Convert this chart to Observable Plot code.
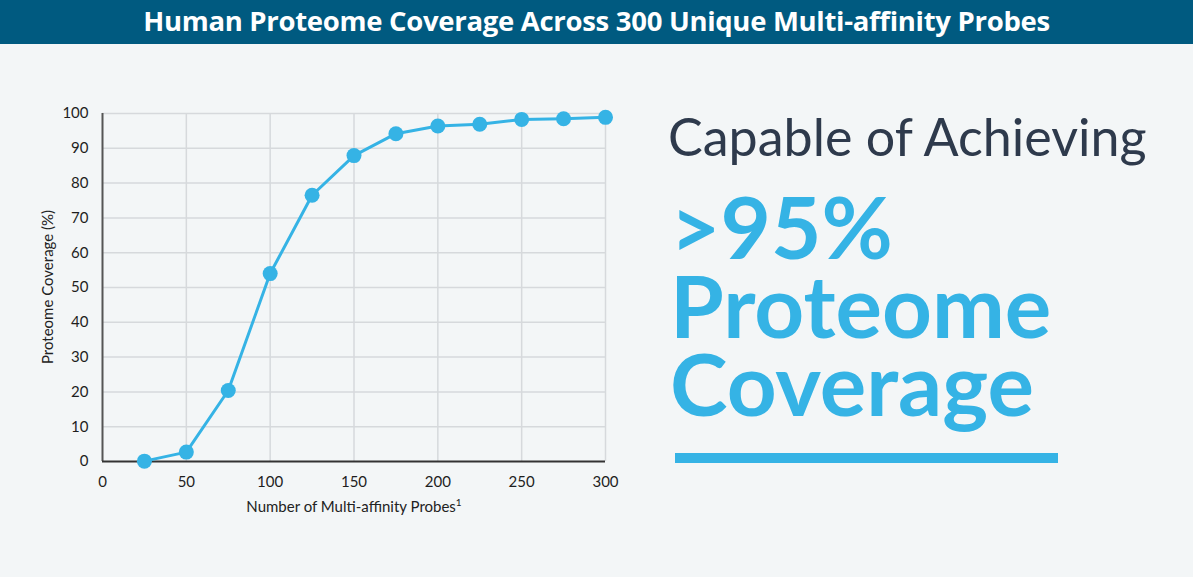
<!DOCTYPE html>
<html>
<head>
<meta charset="utf-8">
<script src="https://cdn.jsdelivr.net/npm/d3@7"></script>
<script src="https://cdn.jsdelivr.net/npm/@observablehq/plot@0.6"></script>
<style>
  html, body { margin: 0; padding: 0; width: 1193px; height: 577px; overflow: hidden; background: #f3f6f7; font-family: Lato, "Open Sans", sans-serif; }
  #header { position: absolute; left: 0; top: 0; width: 1193px; height: 44px; background: #005a80; color: #fff; font-family: "Open Sans", Lato, sans-serif; font-weight: 700; font-size: 27.5px; line-height: 42px; text-align: center; letter-spacing: -0.3px; }
  #chart { position: absolute; left: 0; top: 50px; }
  .right { position: absolute; left: 668px; white-space: nowrap; }
  #cap { top: 105px; font-size: 52px; color: #2e3a4c; font-weight: 400; line-height: 62px; }
  #big { top: 187px; left: 670px; font-size: 87px; font-weight: 700; color: #35b3e5; line-height: 78.5px; }
  #bar { position: absolute; left: 675px; top: 453px; width: 383px; height: 10px; background: #35b3e5; }
  .axlab { position: absolute; font-size: 15px; color: #222; white-space: nowrap; }
  #xlab { left: 354px; top: 497px; transform: translateX(-50%); }
  #xlab sup { font-size: 10px; vertical-align: 6px; line-height: 0; }
  #ylab { left: 47px; top: 287px; transform: translate(-50%, -50%) rotate(-90deg); }
</style>
</head>
<body>
<div id="header">Human Proteome Coverage Across 300 Unique Multi-affinity Probes</div>
<div id="chart"></div>
<div class="axlab" id="xlab"></div>
<div class="axlab" id="ylab"></div>
<div class="right" id="cap">Capable of Achieving</div>
<div class="right" id="big">&gt;95%<br>Proteome<br>Coverage</div>
<div id="bar"></div>
<script>
const probes = [25, 50, 75, 100, 125, 150, 175, 200, 225, 250, 275, 300];
const coverage = [0.1, 2.7, 20.4, 54.0, 76.5, 87.9, 94.2, 96.4, 96.9, 98.3, 98.5, 98.9];
const xTicks = [0, 50, 100, 150, 200, 250, 300];
const yTicks = [0, 10, 20, 30, 40, 50, 60, 70, 80, 90, 100];
const xLabel = "Number of Multi-affinity Probes";
const xLabelNote = "1";
const yLabel = "Proteome Coverage (%)";

document.getElementById("xlab").innerHTML = xLabel + "<sup>" + xLabelNote + "</sup>";
document.getElementById("ylab").textContent = yLabel;

const data = probes.map((p, i) => ({probes: p, coverage: coverage[i]}));
const blue = "#35b3e5";

const chart = Plot.plot({
  width: 640,
  height: 480,
  marginLeft: 102,
  marginRight: 35,
  marginTop: 63,
  marginBottom: 69,
  style: {fontFamily: "Lato, 'Open Sans', sans-serif", fontSize: "15px", color: "#1e1e1e", background: "transparent"},
  x: {domain: [0, 300], ticks: xTicks, tickSize: 0, tickPadding: 15, label: null},
  y: {domain: [0, 100], ticks: yTicks, tickSize: 0, tickPadding: 14, label: null},
  marks: [
    Plot.gridY(yTicks.filter(d => d > 0), {stroke: "#d6d9dc", strokeOpacity: 1, strokeWidth: 1.5}),
    Plot.gridX(xTicks.filter(d => d > 0), {stroke: "#d6d9dc", strokeOpacity: 1, strokeWidth: 1.5}),
    Plot.ruleX([0], {stroke: "#555", strokeWidth: 2}),
    Plot.ruleY([0], {stroke: "#333", strokeWidth: 2}),
    Plot.line(data, {x: "probes", y: "coverage", stroke: blue, strokeWidth: 3}),
    Plot.dot(data, {x: "probes", y: "coverage", fill: blue, r: 7.5})
  ]
});
document.getElementById("chart").appendChild(chart);
</script>
</body>
</html>
